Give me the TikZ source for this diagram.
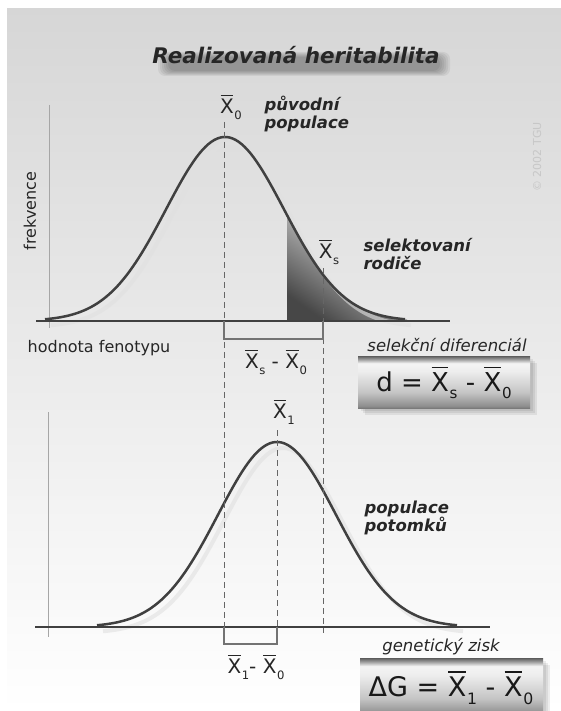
\documentclass[tikz,border=0pt]{standalone}
\usepackage{fontspec}
\setmainfont{DejaVu Sans}
\usepackage{graphicx}
\definecolor{mA}{HTML}{7A7A7A}
\definecolor{mB}{HTML}{8E8E8E}
\definecolor{mC}{HTML}{C4C4C4}
\definecolor{mD}{HTML}{EDEDED}
\definecolor{mE}{HTML}{F4F4F4}
\definecolor{mF}{HTML}{9A9A9A}
\definecolor{mG}{HTML}{5C5C5C}
\pgfdeclareverticalshading{metal}{100bp}{color(0bp)=(mA); color(25bp)=(mA); color(27bp)=(mB); color(40bp)=(mC); color(60bp)=(mD); color(68bp)=(mE); color(72bp)=(mF); color(75bp)=(mG); color(100bp)=(mG)}
\newcommand{\xbr}[1]{\mbox{\rlap{\kern0.02em\rule[0.88em]{0.64em}{0.055em}}X\kern0.03em\raisebox{-0.3em}{\scalebox{0.58}{#1}}}}
\tikzset{
  curveline/.style={draw=black!75, line width=2.5pt},
  curveshadow/.style={draw=black!12, line width=4pt, opacity=0.6},
  xaxis/.style={draw=black!75, line width=1.5pt},
  yaxis/.style={draw=black!35, line width=1pt},
  guide/.style={draw=black!60, line width=1pt, dash pattern=on 6pt off 4pt},
  bracket/.style={draw=black!55, line width=1.5pt},
  boldlabel/.style={font=\bfseries\itshape\fontsize{16.5}{18.5}\selectfont, text=black!85, align=left, anchor=west},
  plainlabel/.style={font=\fontsize{16}{19}\selectfont, text=black!85},
  itlabel/.style={font=\itshape\fontsize{16.5}{19}\selectfont, text=black!85},
  xlabel/.style={font=\fontsize{20}{23}\selectfont, text=black!85},
  formula/.style={font=\fontsize{26}{30}\selectfont, text=black!90},
}
\begin{document}
\begin{tikzpicture}[x=1pt,y=-1pt]
\useasboundingbox (0,0) rectangle (561,711);
% background
\fill[white] (0,0) rectangle (561,711);
\shade[top color=black!16, bottom color=white] (7,9) rectangle (561,711);
% soft shadow under the title
\foreach \i in {0,...,5}
  \fill[black, opacity=0.06, rounded corners=7pt] (158+2*\i,52+\i) rectangle (450-2*\i,76-\i);
\node[font=\bfseries\itshape\fontsize{21.5}{26}\selectfont, text=black!85] (title) at (296,55) {Realizovaná heritabilita};
% copyright
\node[rotate=90, text=black!22, font=\fontsize{11}{13}\selectfont] (copy) at (537,157) {© 2002 TGU};

% ---------- top graph ----------
\coordinate (x0top) at (224,122);
\coordinate (x0bot) at (224,627);
\coordinate (xstop) at (323,268);
\coordinate (xsbot) at (323,633);
\coordinate (x1top) at (277,430);
\coordinate (x1bot) at (277,627);

\draw[yaxis] (49,105) -- (49,328);
% shaded selected tail
\shade[top color=black!72, middle color=black!62, bottom color=black!4, shading angle=145]
  plot[domain=287:407, samples=60] (\x, {321-184*exp(-((\x-225)/59)^2/2)}) -- (407,321) -- (287,321) -- cycle;
\draw[curveshadow] plot[domain=51:411, samples=120] (\x, {327-184*exp(-((\x-231)/59)^2/2)});
\draw[curveline] plot[domain=45:405, samples=120] (\x, {321-184*exp(-((\x-225)/59)^2/2)});
\draw[xaxis] (36,321) -- (450,321);

% ---------- bottom graph ----------
\draw[yaxis] (48,412) -- (48,637);
\draw[curveshadow] plot[domain=103:463, samples=120] (\x, {633-185*exp(-((\x-283)/59)^2/2)});
\draw[curveline] plot[domain=97:457, samples=120] (\x, {627-185*exp(-((\x-277)/59)^2/2)});
\draw[xaxis] (35,627) -- (490,627);

% guides
\draw[guide] (x0top) -- (x0bot);
\draw[guide] (xstop) -- (xsbot);
\draw[guide] (x1top) -- (x1bot);

% brackets
\draw[bracket] (224,321) -- (224,339) -- (323,339) -- (323,321);
\draw[bracket] (224,627) -- (224,644) -- (277,644) -- (277,627);

% labels top
\node[xlabel] (lx0) at (231,107) {\xbr{0}};
\node[boldlabel] (orig) at (261,114) {původní\\populace};
\node[xlabel] (lxs) at (329,252) {\xbr{s}};
\node[boldlabel] (sel) at (360,254) {selektovaní\\rodiče};
\node[plainlabel, rotate=90] (freq) at (30,211) {frekvence};
\node[plainlabel] (hodn) at (99,348) {hodnota fenotypu};
\node[xlabel] (dif1) at (276,362) {\xbr{s} - \xbr{0}};
\node[itlabel] (seldif) at (447,345) {selekční diferenciál};

% d box
\foreach \o in {3,5,7}
  \fill[black, opacity=0.07] (358+\o,356+\o) rectangle (530+\o,408+\o);
\shade[shading=metal] (358,356) rectangle (530,408);
\node[formula] (dbox) at (444,383) {d = \xbr{s} - \xbr{0}};

% labels bottom
\node[xlabel] (lx1) at (284,412) {\xbr{1}};
\node[boldlabel] (off) at (361,518) {populace\\potomků};
\node[xlabel] (dif2) at (256,667) {\xbr{1}- \xbr{0}};
\node[itlabel] (gz) at (441,647) {genetický zisk};

% Delta G box
\foreach \o in {3,5,7}
  \fill[black, opacity=0.07] (360+\o,658+\o) rectangle (543+\o,716+\o);
\shade[shading=metal] (360,658) rectangle (543,716);
\node[formula, font=\fontsize{27}{31}\selectfont] (gbox) at (451,688) {ΔG = \xbr{1} - \xbr{0}};
\end{tikzpicture}
\end{document}
